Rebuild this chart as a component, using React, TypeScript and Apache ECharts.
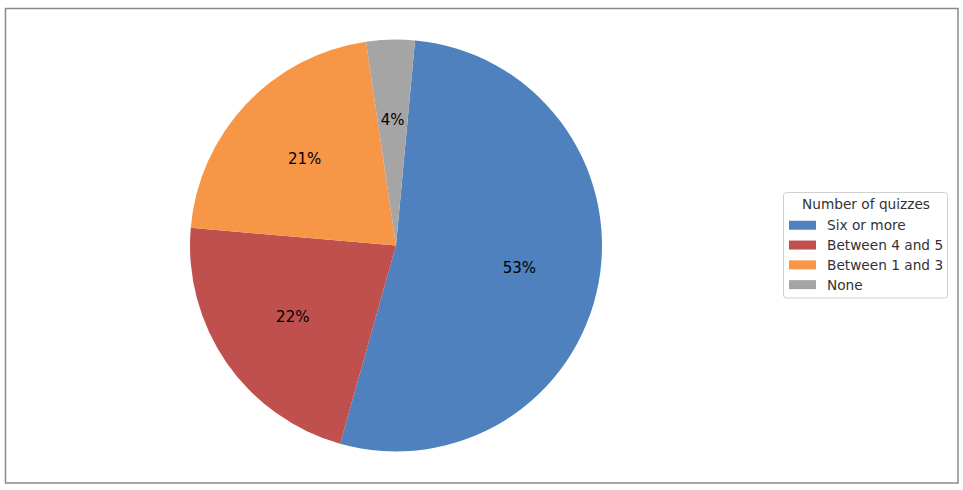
import { useEffect, useRef } from 'react'
import * as echarts from 'echarts'

const categories = ['Six or more', 'Between 4 and 5', 'Between 1 and 3', 'None']
const shares = [52.9, 22.0, 21.3, 3.8]
const colors = ['#4e81bd', '#c0504d', '#f79646', '#a5a5a5']
const legendTitle = 'Number of quizzes'

const FONT = '"DejaVu Sans", sans-serif'

export default function App() {
  const main = useRef<HTMLDivElement>(null)
  useEffect(() => {
    const data = categories.map((name, i) => ({
      name,
      value: shares[i],
      itemStyle: { color: colors[i] },
    }))
    const option = {
      animation: false,
      backgroundColor: '#fff',
      legend: {
        orient: 'vertical',
        left: 784,
        top: 218,
        padding: [0, 5],
        itemWidth: 27,
        itemHeight: 9,
        itemGap: 5.3,
        icon: 'rect',
        data: categories,
        textStyle: {
          fontFamily: FONT,
          fontSize: 13.7,
          color: '#333',
          lineHeight: 14.5,
          padding: [0, 0, 0, 6],
        },
      },
      graphic: [
        {
          type: 'rect',
          shape: { x: 5.5, y: 8.5, width: 952.5, height: 474.5 },
          style: { fill: 'none', stroke: '#8a8a8a', lineWidth: 1.5 },
          silent: true,
        },
        {
          type: 'rect',
          shape: { x: 783.5, y: 192.5, width: 164, height: 105.5, r: 3 },
          style: { fill: '#fff', stroke: '#d0d0d0', lineWidth: 1 },
          silent: true,
          z: -1,
        },
        {
          type: 'text',
          x: 866,
          y: 204,
          style: {
            text: legendTitle,
            font: `13.7px ${FONT}`,
            fill: '#333',
            align: 'center',
            verticalAlign: 'middle',
          },
          silent: true,
        },
      ],
      series: [
        {
          type: 'pie',
          center: [396, 245.5],
          radius: [0, 206],
          startAngle: 84.7,
          clockwise: true,
          label: { show: false },
          labelLine: { show: false },
          emphasis: { disabled: true },
          data,
        },
        {
          type: 'pie',
          center: [396, 245.5],
          radius: [0, 245],
          startAngle: 84.7,
          clockwise: true,
          silent: true,
          itemStyle: { color: 'transparent' },
          label: {
            show: true,
            position: 'inside',
            fontFamily: FONT,
            fontSize: 15,
            color: '#000',
            formatter: (p: any) => Math.round(p.percent) + '%',
          },
          labelLine: { show: false },
          emphasis: { disabled: true },
          legendHoverLink: false,
          data: categories.map((name, i) => ({
            name: name + ' ',
            value: shares[i],
            itemStyle: { color: 'transparent', borderWidth: 0 },
          })),
        },
      ],
    }
    const chart = echarts.init(main.current, null, { renderer: 'svg' })
    chart.setOption(option)
    return () => {
      chart.dispose()
    }
  }, [])
  return (
    <div
      ref={main}
      style={{ position: 'absolute', left: 0, top: 0, width: '963px', height: '490px' }}
    ></div>
  )
}
